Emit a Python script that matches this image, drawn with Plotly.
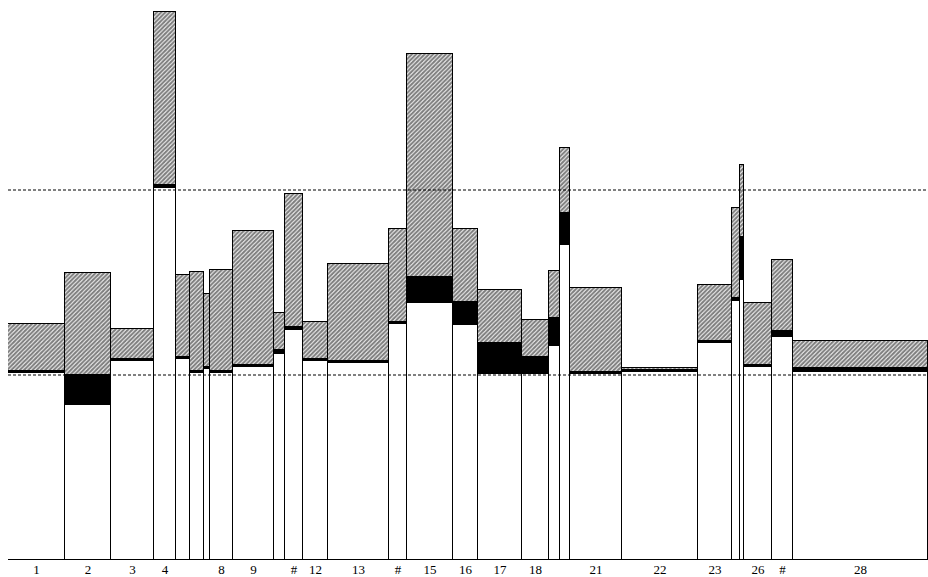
import numpy as np
import plotly.graph_objects as go

# Bar widths (variable-width bars, drawn side by side with no gaps)
widths = [57, 46, 43, 22, 14, 14, 6, 23, 41, 11, 18, 25, 61, 18, 46, 25,
          44, 27, 11, 10, 52, 76, 34, 8, 4, 28, 21, 135]

tick_labels = ["1", "2", "3", "4", "", "", "", "8", "9", "", "#", "12", "13", "#",
               "15", "16", "17", "18", "", "", "21", "22", "23", "", "", "26", "#", "28"]

# Stacked segment heights (reference lines at 1 and 2)
base_part = [1.011, 0.838, 1.076, 2.011, 1.086, 1.011, 1.032, 1.011, 1.043, 1.114,
             1.243, 1.076, 1.065, 1.276, 1.389, 1.270, 1.005, 1.005, 1.157, 1.703,
             1.005, 1.016, 1.173, 1.400, 1.514, 1.043, 1.205, 1.016]
mid_part = [0.011, 0.162, 0.011, 0.016, 0.011, 0.011, 0.011, 0.011, 0.011, 0.022,
            0.016, 0.011, 0.011, 0.011, 0.141, 0.124, 0.168, 0.092, 0.151, 0.173,
            0.011, 0.011, 0.011, 0.016, 0.232, 0.011, 0.032, 0.022]
top_part = [0.254, 0.551, 0.162, 0.935, 0.443, 0.535, 0.395, 0.546, 0.724, 0.200,
            0.719, 0.200, 0.524, 0.503, 1.205, 0.395, 0.286, 0.200, 0.254, 0.351,
            0.454, 0.011, 0.303, 0.486, 0.389, 0.335, 0.384, 0.146]

ref_levels = [0, 1, 2]

w = np.array(widths, dtype=float)
edges = np.concatenate([[0], np.cumsum(w)])
centers = (edges[:-1] + edges[1:]) / 2
total = edges[-1]

line = dict(color="black", width=1)

fig = go.Figure()
fig.add_trace(go.Bar(x=centers, y=base_part, width=w,
                     marker=dict(color="white", line=line), showlegend=False))
fig.add_trace(go.Bar(x=centers, y=mid_part, width=w,
                     marker=dict(color="black", line=line), showlegend=False))
fig.add_trace(go.Bar(x=centers, y=top_part, width=w,
                     marker=dict(color="white", line=line,
                                 pattern=dict(shape="/", fgcolor="black", bgcolor="white",
                                              size=3, solidity=0.7)),
                     showlegend=False))

for lv in ref_levels:
    fig.add_shape(type="line", x0=0, x1=total, y0=lv, y1=lv, xref="x", yref="y",
                  line=dict(color="black", width=1, dash="3px,2px"), layer="above")

fig.update_layout(
    width=928, height=577,
    margin=dict(l=8, r=0, t=0, b=17, autoexpand=False),
    barmode="stack", bargap=0,
    plot_bgcolor="white", paper_bgcolor="white",
    font=dict(family="Liberation Serif, DejaVu Serif, serif", size=13, color="black"),
    xaxis=dict(range=[0, total], tickvals=centers, ticktext=tick_labels,
               showgrid=False, zeroline=False, showline=False, ticks="",
               tickfont=dict(size=13), ticklabelstandoff=0, automargin=False),
    yaxis=dict(range=[0, 560 / 185], visible=False, showgrid=False, zeroline=False,
               automargin=False),
)

fig.write_html("out.html")
